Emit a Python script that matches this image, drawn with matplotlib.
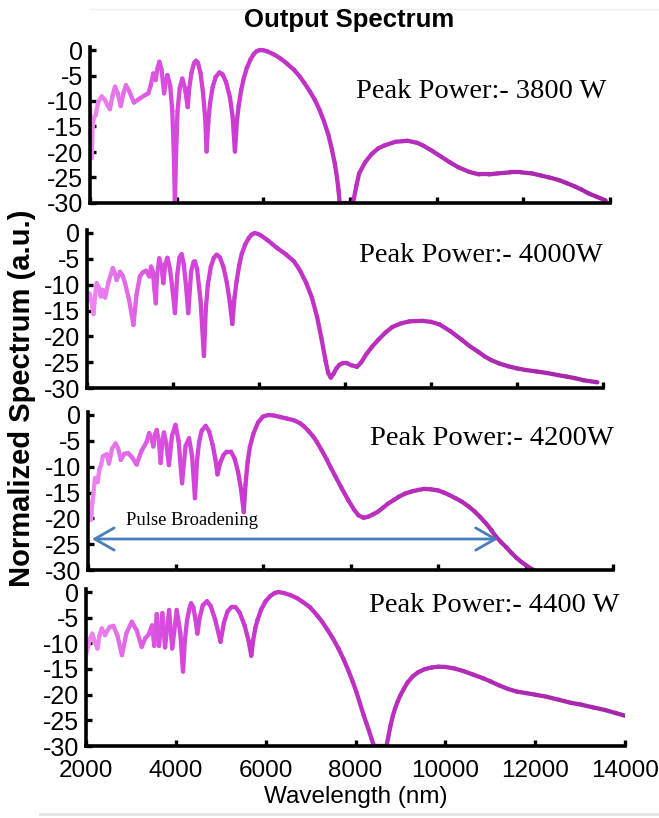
import matplotlib
matplotlib.use("Agg")
import numpy as np
import matplotlib.pyplot as plt
from matplotlib.collections import LineCollection
from matplotlib.colors import LinearSegmentedColormap, Normalize
from matplotlib.lines import Line2D

# ---- data (wavelength nm, normalized spectrum) ----
wl_3800 = [2000, 2020, 2040, 2060, 2090, 2130, 2190, 2270, 2345, 2400, 2460, 2520, 2577, 2640,
           2710, 2770, 2830, 2900, 3015, 3150, 3280, 3345, 3400, 3460, 3515, 3560, 3600, 3650,
           3710, 3750, 3785, 3850, 3900, 3940, 3960, 3980, 4020, 4070, 4130, 4190, 4255, 4290,
           4340, 4400, 4445, 4490, 4550, 4610, 4660, 4690, 4730, 4770, 4830, 4900, 4985, 5060,
           5140, 5230, 5290, 5345, 5390, 5430, 5490, 5550, 5620, 5700, 5780, 5850, 5925, 6000,
           6100, 6250, 6400, 6550, 6710, 6850, 6950, 7080, 7190, 7300, 7400, 7500, 7585, 7650,
           7700, 7735, 7760, 8070, 8150, 8210, 8350, 8500, 8650, 8800, 9050, 9330, 9550, 9700,
           9900, 10100, 10300, 10500, 10750, 10980, 11200, 11400, 11700, 11950, 12200, 12400, 12600, 12820,
           13000, 13200, 13350, 13500, 13700, 13900]
sp_3800 = [-11.4, -16, -21.2, -15, -13.3, -12.8, -10.2, -9.1, -9.8, -10.8, -11.6, -9.0, -7.2, -8.5,
           -11.0, -8.5, -6.9, -8.0, -10.3, -9.5, -8.8, -8.5, -7.0, -4.6, -5.9, -3.5, -2.3, -3.8,
           -8.5, -6.0, -4.9, -7.0, -12, -22, -30, -22, -12, -7.5, -5.6, -7.5, -11.2, -7.5,
           -4.5, -2.6, -2.1, -2.5, -4.5, -8.5, -13.5, -19.9, -14, -10.5, -7.3, -5.3, -4.4, -4.8,
           -6.3, -9.3, -13, -19.9, -14, -11, -7.8, -5.5, -3.5, -1.9, -0.8, -0.2, 0, -0.05,
           -0.3, -0.9, -1.7, -2.7, -3.9, -5.3, -6.5, -8.2, -9.8, -11.8, -14.0, -16.6, -19.6, -22.3,
           -25.0, -27.5, -30, -30, -26.5, -24.2, -22.0, -20.4, -19.3, -18.7, -18.0, -17.8, -18.2, -18.8,
           -19.8, -20.9, -22.0, -23.0, -23.9, -24.4, -24.4, -24.2, -24.0, -24.0, -24.2, -24.6, -25.0, -25.5,
           -26.1, -26.8, -27.4, -28.1, -28.8, -29.5]

wl_4000 = [2000, 2030, 2055, 2100, 2150, 2190, 2225, 2270, 2320, 2365, 2420, 2500, 2600, 2650,
           2690, 2770, 2830, 2885, 2980, 3080, 3150, 3230, 3300, 3370, 3450, 3490, 3530, 3570,
           3600, 3630, 3680, 3730, 3775, 3820, 3870, 3930, 3990, 4045, 4100, 4150, 4200, 4250,
           4300, 4355, 4420, 4480, 4510, 4560, 4640, 4720, 4760, 4810, 4880, 4950, 5015, 5090,
           5170, 5250, 5320, 5380, 5430, 5480, 5540, 5600, 5680, 5760, 5830, 5900, 5980, 6050,
           6200, 6420, 6620, 6815, 6950, 7100, 7230, 7350, 7450, 7550, 7610, 7670, 7730, 7800,
           7870, 7950, 8040, 8150, 8280, 8380, 8500, 8630, 8770, 8950, 9100, 9300, 9500, 9800,
           10000, 10200, 10450, 10720, 10900, 11100, 11250, 11400, 11600, 11800, 12000, 12190, 12450, 12700,
           12950, 13160, 13350, 13550, 13870]
sp_4000 = [-13.5, -12.5, -11.7, -13, -15.7, -12, -9.7, -10.5, -12.3, -11.0, -12.5, -9.5, -6.8, -7.8,
           -9.1, -7.5, -8.3, -9.7, -13, -17.8, -12, -8.4, -7.6, -7.3, -8.4, -6.5, -7.5, -11,
           -13.6, -8, -4.9, -6.5, -9.7, -6, -4.8, -7, -11, -15.5, -8, -4.8, -4.1, -6,
           -10, -15.5, -7.5, -5.6, -5.5, -7, -13, -23.8, -15, -10, -6.5, -4.8, -4.2, -4.7,
           -6.5, -9.5, -13.3, -17.6, -12.5, -9.3, -6.2, -4.0, -2.2, -1.0, -0.3, 0, -0.2, -0.5,
           -1.4, -2.9, -4.1, -5.5, -7.2, -9.7, -12.5, -16.2, -20.3, -24.8, -27.1, -28.0, -27.3, -26.2,
           -25.5, -25.2, -25.2, -25.6, -25.9, -25.0, -23.4, -22.0, -20.7, -19.2, -18.2, -17.5, -17.1, -17.0,
           -17.2, -17.7, -19.0, -20.7, -21.9, -23.0, -23.9, -24.6, -25.3, -25.8, -26.2, -26.5, -26.8, -27.1,
           -27.5, -27.8, -28.1, -28.5, -28.9]

wl_4200 = [2000, 2035, 2070, 2100, 2120, 2160, 2190, 2220, 2260, 2300, 2340, 2380, 2430, 2480,
           2550, 2630, 2690, 2750, 2830, 2920, 3010, 3110, 3220, 3340, 3400, 3450, 3495, 3530,
           3570, 3620, 3660, 3700, 3735, 3790, 3850, 3920, 4000, 4070, 4150, 4230, 4310, 4380,
           4445, 4490, 4540, 4600, 4690, 4770, 4850, 4910, 4960, 5020, 5100, 5170, 5270, 5350,
           5430, 5500, 5560, 5600, 5650, 5700, 5780, 5890, 6000, 6120, 6250, 6400, 6550, 6700,
           6850, 6950, 7050, 7150, 7230, 7340, 7450, 7550, 7650, 7800, 7950, 8080, 8180, 8300,
           8400, 8500, 8630, 8750, 8850, 9000, 9110, 9250, 9400, 9550, 9690, 9850, 10000, 10130,
           10260, 10400, 10550, 10700, 10840, 10970, 11100, 11220, 11320, 11440, 11560, 11680, 11800, 11900,
           12000, 12100, 12190]
sp_4200 = [-16.5, -19, -20.3, -17, -15.5, -12.2, -12.5, -13.0, -10.5, -9.7, -8.0, -7.8, -7.6, -9.4,
           -6.5, -5.5, -6.5, -8.7, -7.5, -7.4, -8.2, -9.6, -7, -5.2, -3.5, -4.5, -6.1, -3.8,
           -2.9, -5, -9.3, -5, -3.4, -5.5, -9.7, -4, -1.9, -5, -13.2, -6, -4.5, -8,
           -16.1, -9, -5.2, -3.0, -2.1, -3.2, -5.8, -8.5, -11.5, -9.3, -7.7, -7.1, -7.1, -8.4,
           -11, -14.5, -18.8, -13.5, -9.0, -6.2, -3.6, -1.4, -0.3, 0, -0.1, -0.4, -0.7, -1.0,
           -1.6, -2.3, -3.2, -4.2, -5.2, -6.8, -8.5, -10.2, -11.8, -14.2, -16.5, -18.3, -19.4, -19.9,
           -19.7, -19.3, -18.7, -17.9, -17.2, -16.4, -15.8, -15.2, -14.8, -14.5, -14.3, -14.4, -14.6, -15.0,
           -15.5, -16.1, -16.8, -17.7, -18.7, -19.8, -21, -22.3, -23.5, -24.6, -25.6, -26.7, -27.7, -28.4,
           -29.0, -29.6, -30]

wl_4400 = [2000, 2050, 2095, 2140, 2190, 2255, 2300, 2350, 2390, 2425, 2470, 2530, 2610, 2700,
           2800, 2900, 3020, 3130, 3240, 3320, 3385, 3430, 3470, 3520, 3575, 3625, 3700, 3760,
           3850, 3920, 4020, 4100, 4160, 4200, 4250, 4300, 4340, 4390, 4440, 4480, 4530, 4600,
           4695, 4780, 4880, 4995, 5070, 5150, 5240, 5325, 5420, 5530, 5620, 5680, 5720, 5770,
           5820, 5900, 6000, 6100, 6200, 6280, 6400, 6550, 6700, 6820, 6990, 7150, 7250, 7380,
           7500, 7620, 7740, 7850, 7940, 8020, 8100, 8180, 8240, 8300, 8360, 8410, 8690, 8740,
           8780, 8830, 8880, 8940, 9000, 9080, 9160, 9280, 9400, 9550, 9700, 9850, 10000, 10200,
           10400, 10620, 10840, 11000, 11200, 11400, 11590, 11800, 12000, 12250, 12530, 12800, 13000, 13300,
           13560, 13800, 14000]
sp_4400 = [-12.3, -10.5, -9.0, -8.1, -9.5, -11.0, -8.5, -7.1, -7.8, -8.4, -7.6, -6.8, -6.6, -8.5,
           -12.3, -8, -5.8, -7.5, -10.7, -9, -8.4, -7.5, -6.5, -10.5, -4.3, -10.5, -4.1, -10.8,
           -3.5, -11, -3.5, -8, -15.5, -9.5, -5.5, -3.3, -2.2, -3.0, -5.5, -8.1, -5.0, -2.6,
           -1.8, -2.8, -5.5, -9.7, -6.0, -3.8, -2.9, -2.9, -4.0, -6.5, -9.5, -12.4, -9.5, -7.0,
           -5.4, -3.4, -1.8, -0.8, -0.2, 0, -0.2, -0.6, -1.2, -1.9, -3.0, -4.6, -5.7, -7.4,
           -9.1, -11, -13.2, -15.5, -17.5, -19.5, -21.7, -24.0, -25.5, -27, -28.7, -30, -30, -27.8,
           -26, -24.2, -22.7, -21.3, -20.1, -18.8, -17.6, -16.4, -15.6, -15.0, -14.7, -14.55, -14.6, -14.9,
           -15.4, -16.1, -16.8, -17.4, -18.2, -18.9, -19.4, -19.7, -20.0, -20.4, -21.0, -21.6, -21.9, -22.5,
           -23.0, -23.6, -24.1]

labels = ["Peak Power:- 3800 W", "Peak Power:- 4000W", "Peak Power:- 4200W", "Peak Power:- 4400 W"]
series = [(wl_3800, sp_3800), (wl_4000, sp_4000), (wl_4200, sp_4200), (wl_4400, sp_4400)]
xticks = [2000, 4000, 6000, 8000, 10000, 12000, 14000]
yticks = [0, -5, -10, -15, -20, -25, -30]

# ---- layout in pixels: (x of 2000, x of 14000, y of 0, y of -30), label left/baseline ----
W, H = 659, 818
panels = [(90, 610, 50, 203), (87, 603, 233, 388), (88, 613, 415, 570), (86, 625, 592, 746)]
label_pos = [(356, 98), (359, 262), (370, 445), (369, 612)]

fig = plt.figure(figsize=(W / 100, H / 100), dpi=100)
cmap = LinearSegmentedColormap.from_list(
    "spec", [(0.0, "#ee88f0"), (0.15, "#d84ade"), (0.35, "#c433c9"), (1.0, "#a526a8")])
norm = Normalize(2000, 14000)
ytop = 0.6

axes = []
for i, ((x0, x1, y0, y30), (wl, sp)) in enumerate(zip(panels, series)):
    scale = (y30 - y0) / 30.0
    top = y0 - ytop * scale
    ax = fig.add_axes([x0 / W, 1 - y30 / H, (x1 - x0) / W, (y30 - top) / H])
    x = np.array(wl, float)
    y = np.array(sp, float)
    pts = np.column_stack([x, y]).reshape(-1, 1, 2)
    segs = np.concatenate([pts[:-1], pts[1:]], axis=1)
    lc = LineCollection(segs, colors=cmap(norm((x[:-1] + x[1:]) / 2)), linewidths=3.1,
                        capstyle="round", joinstyle="round", zorder=2)
    ax.add_collection(lc)
    ax.set_xlim(2000, 14000)
    ax.set_ylim(-30, ytop)
    ax.set_xticks(xticks)
    ax.set_yticks(yticks)
    ax.set_yticklabels([str(t) for t in yticks], fontsize=18, family="Liberation Sans")
    for s in ["top", "right"]:
        ax.spines[s].set_visible(False)
    for s in ["left", "bottom"]:
        ax.spines[s].set_linewidth(2.6)
        ax.spines[s].set_zorder(3)
    ax.tick_params(direction="in", length=4, width=2.4, pad=5)
    if i < 3:
        ax.set_xticklabels([])
    else:
        ax.set_xticklabels([str(t) for t in xticks], fontsize=17.5, family="Liberation Sans")
        ax.tick_params(axis="x", pad=10)
    ax.patch.set_alpha(0)
    lx, ly = label_pos[i]
    fig.text(lx / W, 1 - ly / H, labels[i], fontsize=20.5, family="Liberation Serif",
             ha="left", va="baseline")
    axes.append(ax)

# pulse broadening arrow on the 4200 W panel
ax3 = axes[2]
ax3.annotate("", xy=(2090, -24), xytext=(11370, -24),
             arrowprops=dict(arrowstyle="<->,head_length=1.4,head_width=0.8", color="#4a7ebb",
                             lw=2, mutation_scale=10, shrinkA=0, shrinkB=0))
fig.text(126 / W, 1 - 525 / H, "Pulse Broadening", fontsize=13.4, family="Liberation Serif",
         ha="left", va="baseline")

fig.text(349 / W, 1 - 20 / H, "Output Spectrum", fontsize=18.5, fontweight="bold",
         family="Liberation Sans", ha="center", va="center")
fig.text(22 / W, 1 - 398 / H, "Normalized Spectrum (a.u.)", fontsize=21, fontweight="bold",
         family="Liberation Sans", ha="center", va="center", rotation=90)
fig.text(356 / W, 1 - 797 / H, "Wavelength (nm)", fontsize=17.5, family="Liberation Sans",
         ha="center", va="center")

# faint frame lines from the source scan
fig.add_artist(Line2D([90 / W, 1], [1 - 9 / H, 1 - 9 / H], color="#eeeeee", lw=1))
fig.add_artist(Line2D([40 / W, 1], [1 - 814 / H, 1 - 814 / H], color="#e4e4e4", lw=2))

fig.savefig("out.png", dpi=100)
